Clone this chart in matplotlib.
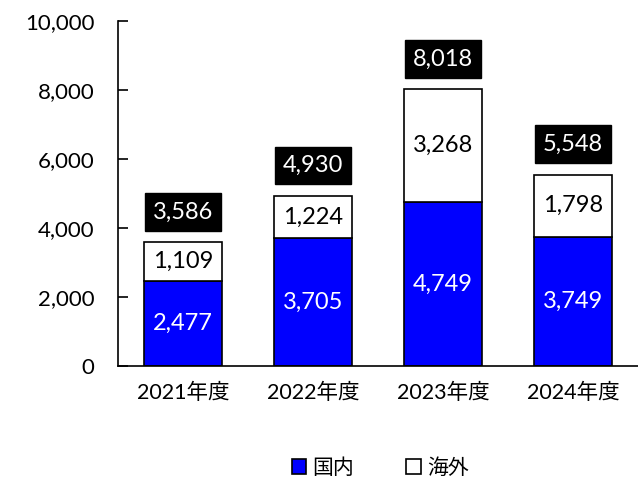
import matplotlib.pyplot as plt

plt.rcParams['font.family'] = ['Lato', 'Noto Sans CJK JP', 'DejaVu Sans']

years = ['2021年度', '2022年度', '2023年度', '2024年度']
domestic = [2477, 3705, 4749, 3749]
overseas = [1109, 1224, 3268, 1798]
totals = [3586, 4930, 8018, 5548]

fig = plt.figure(figsize=(6.38, 4.88), dpi=100)
ax = fig.add_axes([118 / 638, 1 - 366 / 488, 520 / 638, 345 / 488])

x = range(len(years))
b1 = ax.bar(x, domestic, 0.6, color='#0000ff', edgecolor='black', linewidth=1.2, label='国内')
b2 = ax.bar(x, overseas, 0.6, bottom=domestic, color='white', edgecolor='black', linewidth=1.2, label='海外')

for i in x:
    ax.text(i, domestic[i] / 2, f'{domestic[i]:,}', ha='center', va='center', color='white', fontsize=17)
    ax.text(i, domestic[i] + overseas[i] / 2, f'{overseas[i]:,}', ha='center', va='center', color='black', fontsize=17)
    ax.text(i, totals[i] + 880, f'{totals[i]:,}', ha='center', va='center', color='white', fontsize=17,
            bbox=dict(boxstyle='square,pad=0.35', facecolor='black', edgecolor='black'))

ax.set_xlim(-0.5, 3.5)
ax.set_ylim(0, 10000)
ax.set_yticks(range(0, 10001, 2000))
ax.set_yticklabels([f'{v:,}' for v in range(0, 10001, 2000)], fontsize=16)
ax.set_xticks(list(x))
ax.set_xticklabels(years, fontsize=15.5)
ax.tick_params(axis='y', direction='in', length=7, width=1.2, pad=17)
ax.tick_params(axis='x', length=0, pad=12)
ax.spines['top'].set_visible(False)
ax.spines['right'].set_visible(False)
ax.spines['left'].set_linewidth(1.2)
ax.spines['bottom'].set_linewidth(1.2)

fig.legend(handles=[b1, b2], loc='center', bbox_to_anchor=(0.596, 1 - 468 / 488), ncol=2, frameon=False,
           fontsize=15, handlelength=0.7, handleheight=0.7, handletextpad=0.3, columnspacing=2.5)

fig.savefig('out.png', dpi=100)
